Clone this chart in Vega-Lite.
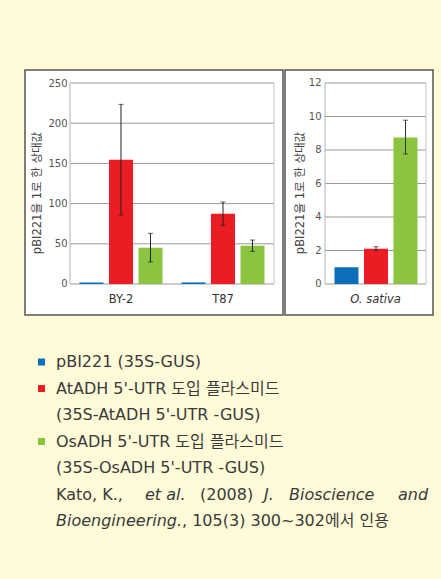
{
  "$schema": "https://vega.github.io/schema/vega-lite/v6.json",
  "background": "#fffad8",
  "padding": {"left": 24, "top": 69, "right": 11, "bottom": 53},
  "config": {
    "font": "'DejaVu Sans', 'Noto Sans CJK KR'",
    "concat": {"spacing": 0}
  },
  "datasets": {
    "bars": [
      {"group": "BY-2", "series": "pBI221", "value": 2},
      {"group": "BY-2", "series": "AtADH", "value": 154.6, "lo": 85.8, "hi": 223.4},
      {"group": "BY-2", "series": "OsADH", "value": 45.1, "lo": 27.4, "hi": 63},
      {"group": "T87", "series": "pBI221", "value": 2},
      {"group": "T87", "series": "AtADH", "value": 87.4, "lo": 72.9, "hi": 102},
      {"group": "T87", "series": "OsADH", "value": 47.6, "lo": 40.5, "hi": 54.7}
    ],
    "rice": [
      {"group": "O. sativa", "series": "pBI221", "value": 1},
      {"group": "O. sativa", "series": "AtADH", "value": 2.1, "lo": 1.99, "hi": 2.23},
      {"group": "O. sativa", "series": "OsADH", "value": 8.75, "lo": 7.76, "hi": 9.78}
    ],
    "leftGrid": [{"v": 0}, {"v": 50}, {"v": 100}, {"v": 150}, {"v": 200}, {"v": 250}],
    "rightGrid": [{"v": 0}, {"v": 2}, {"v": 4}, {"v": 6}, {"v": 8}, {"v": 10}, {"v": 12}],
    "legend": [
      {"line": 1, "text": "pBI221 (35S-GUS)", "series": "pBI221"},
      {"line": 2, "text": "AtADH 5'-UTR 도입 플라스미드", "series": "AtADH"},
      {"line": 3, "text": "(35S-AtADH 5'-UTR -GUS)"},
      {"line": 4, "text": "OsADH 5'-UTR 도입 플라스미드", "series": "OsADH"},
      {"line": 5, "text": "(35S-OsADH 5'-UTR -GUS)"},
      {"line": 6, "text": "Kato, K.,"},
      {"line": 6, "text": "et al."},
      {"line": 6, "text": "(2008)"},
      {"line": 6, "text": "J."},
      {"line": 6, "text": "Bioscience"},
      {"line": 6, "text": "and"},
      {"line": 7, "text": "Bioengineering."},
      {"line": 7, "text": ", 105(3) 300~302에서 인용"}
    ]
  },
  "spacing": 0,
  "vconcat": [
    {
      "spacing": 0,
      "hconcat": [
        {
          "width": 258,
          "height": 245,
          "view": {"fill": "white", "stroke": "#555555", "strokeWidth": 1.5},
          "layer": [
            {
              "data": {"name": "leftGrid"},
              "mark": {"type": "rule", "color": "#9a9a9a", "strokeWidth": 1},
              "encoding": {
                "x": {"datum": "BY-2", "type": "nominal", "bandPosition": 0},
                "x2": {"datum": "T87", "bandPosition": 1},
                "y": {"field": "v", "type": "quantitative"}
              }
            },
            {
              "data": {"name": "leftGrid"},
              "transform": [{"filter": "datum.v == 0"}],
              "mark": {"type": "rule", "color": "#b4b4b4", "strokeWidth": 1},
              "encoding": {
                "x": {"datum": "BY-2", "type": "nominal", "bandPosition": 0},
                "y": {"datum": 0, "type": "quantitative"},
                "y2": {"datum": 250}
              }
            },
            {
              "data": {"name": "leftGrid"},
              "transform": [{"filter": "datum.v == 0"}],
              "mark": {"type": "rule", "color": "#c4c4c4", "strokeWidth": 1},
              "encoding": {
                "x": {"datum": "T87", "type": "nominal", "bandPosition": 1},
                "y": {"datum": 0, "type": "quantitative"},
                "y2": {"datum": 250}
              }
            },
            {
              "data": {"name": "bars"},
              "mark": {"type": "bar"},
              "encoding": {
                "x": {
                  "field": "group", "type": "nominal",
                  "scale": {"domain": ["BY-2", "T87"], "paddingInner": 0, "paddingOuter": 0.2647, "align": 0.8333},
                  "axis": {"orient": "bottom", "offset": -31, "domain": false, "ticks": false, "labelPadding": 15, "labelAngle": 0, "labelAlign": "center", "labelFontSize": 11.5, "labelColor": "#333333", "title": null}
                },
                "xOffset": {
                  "field": "series", "type": "nominal",
                  "scale": {"domain": ["pBI221", "AtADH", "OsADH"], "paddingInner": 0.1864, "paddingOuter": 0.322}
                },
                "y": {
                  "field": "value", "type": "quantitative",
                  "scale": {"domain": [-38.56, 266.17], "nice": false, "zero": false},
                  "axis": {"values": [0, 50, 100, 150, 200, 250], "offset": -45, "domain": false, "ticks": false, "grid": false, "labelPadding": 3, "labelFontSize": 10, "labelColor": "#555555", "title": "pBI221을 1로 한 상대값", "titleFontSize": 11.5, "titleFontWeight": "normal", "titleColor": "#444444", "titlePadding": 5}
                },
                "y2": {"datum": 0},
                "color": {
                  "field": "series", "type": "nominal",
                  "scale": {"domain": ["pBI221", "AtADH", "OsADH"], "range": ["#0b6fbb", "#ec1c24", "#8cc43f"]},
                  "legend": null
                }
              }
            },
            {
              "data": {"name": "bars"},
              "transform": [{"filter": "isValid(datum.lo)"}],
              "mark": {"type": "rule", "color": "#222222", "strokeWidth": 1},
              "encoding": {
                "x": {"field": "group", "type": "nominal"},
                "xOffset": {"field": "series", "type": "nominal"},
                "y": {"field": "lo", "type": "quantitative"},
                "y2": {"field": "hi"}
              }
            },
            {
              "data": {"name": "bars"},
              "transform": [{"filter": "isValid(datum.lo)"}],
              "mark": {"type": "tick", "orient": "horizontal", "color": "#222222", "size": 5, "thickness": 1},
              "encoding": {
                "x": {"field": "group", "type": "nominal"},
                "xOffset": {"field": "series", "type": "nominal"},
                "y": {"field": "lo", "type": "quantitative"}
              }
            },
            {
              "data": {"name": "bars"},
              "transform": [{"filter": "isValid(datum.hi)"}],
              "mark": {"type": "tick", "orient": "horizontal", "color": "#222222", "size": 5, "thickness": 1},
              "encoding": {
                "x": {"field": "group", "type": "nominal"},
                "xOffset": {"field": "series", "type": "nominal"},
                "y": {"field": "hi", "type": "quantitative"}
              }
            }
          ]
        },
        {
          "width": 148,
          "height": 245,
          "view": {"fill": "white", "stroke": "#555555", "strokeWidth": 1.5},
          "layer": [
            {
              "data": {"name": "rightGrid"},
              "mark": {"type": "rule", "color": "#9a9a9a", "strokeWidth": 1},
              "encoding": {
                "x": {"datum": "O. sativa", "type": "nominal", "bandPosition": 0},
                "x2": {"datum": "O. sativa", "bandPosition": 1},
                "y": {"field": "v", "type": "quantitative"}
              }
            },
            {
              "data": {"name": "rightGrid"},
              "transform": [{"filter": "datum.v == 0"}],
              "mark": {"type": "rule", "color": "#b4b4b4", "strokeWidth": 1},
              "encoding": {
                "x": {"datum": "O. sativa", "type": "nominal", "bandPosition": 0},
                "y": {"datum": 0, "type": "quantitative"},
                "y2": {"datum": 12}
              }
            },
            {
              "data": {"name": "rightGrid"},
              "transform": [{"filter": "datum.v == 0"}],
              "mark": {"type": "rule", "color": "#c4c4c4", "strokeWidth": 1},
              "encoding": {
                "x": {"datum": "O. sativa", "type": "nominal", "bandPosition": 1},
                "y": {"datum": 0, "type": "quantitative"},
                "y2": {"datum": 12}
              }
            },
            {
              "data": {"name": "rice"},
              "mark": {"type": "bar"},
              "encoding": {
                "x": {
                  "field": "group", "type": "nominal",
                  "scale": {"domain": ["O. sativa"], "paddingInner": 0, "paddingOuter": 0.2327, "align": 0.851},
                  "axis": {"orient": "bottom", "offset": -31, "domain": false, "ticks": false, "labelPadding": 15, "labelAngle": 0, "labelAlign": "center", "labelFontSize": 11.5, "labelFontStyle": "italic", "labelColor": "#333333", "title": null}
                },
                "xOffset": {
                  "field": "series", "type": "nominal",
                  "scale": {"domain": ["pBI221", "AtADH", "OsADH"], "paddingInner": 0.1864, "paddingOuter": 0.305}
                },
                "y": {
                  "field": "value", "type": "quantitative",
                  "scale": {"domain": [-1.851, 12.776], "nice": false, "zero": false},
                  "axis": {"values": [0, 2, 4, 6, 8, 10, 12], "offset": -40, "domain": false, "ticks": false, "grid": false, "labelPadding": 4, "labelFontSize": 10, "labelColor": "#555555", "title": "pBI221을 1로 한 상대값", "titleFontSize": 11.5, "titleFontWeight": "normal", "titleColor": "#444444", "titlePadding": 3}
                },
                "y2": {"datum": 0},
                "color": {
                  "field": "series", "type": "nominal",
                  "scale": {"domain": ["pBI221", "AtADH", "OsADH"], "range": ["#0b6fbb", "#ec1c24", "#8cc43f"]},
                  "legend": null
                }
              }
            },
            {
              "data": {"name": "rice"},
              "transform": [{"filter": "isValid(datum.lo)"}],
              "mark": {"type": "rule", "color": "#333333", "strokeWidth": 1},
              "encoding": {
                "x": {"field": "group", "type": "nominal"},
                "xOffset": {"field": "series", "type": "nominal"},
                "y": {"field": "lo", "type": "quantitative"},
                "y2": {"field": "hi"}
              }
            },
            {
              "data": {"name": "rice"},
              "transform": [{"filter": "isValid(datum.lo)"}],
              "mark": {"type": "tick", "orient": "horizontal", "color": "#222222", "size": 5, "thickness": 1},
              "encoding": {
                "x": {"field": "group", "type": "nominal"},
                "xOffset": {"field": "series", "type": "nominal"},
                "y": {"field": "lo", "type": "quantitative"}
              }
            },
            {
              "data": {"name": "rice"},
              "transform": [{"filter": "isValid(datum.hi)"}],
              "mark": {"type": "tick", "orient": "horizontal", "color": "#222222", "size": 5, "thickness": 1},
              "encoding": {
                "x": {"field": "group", "type": "nominal"},
                "xOffset": {"field": "series", "type": "nominal"},
                "y": {"field": "hi", "type": "quantitative"}
              }
            }
          ]
        }
      ]
    },
    {
      "width": 43.5,
      "height": 212,
      "view": {"stroke": null, "fill": null},
      "data": {"name": "legend"},
      "encoding": {
        "y": {"field": "line", "type": "ordinal", "scale": {"type": "point", "domain": [1, 2, 3, 4, 5, 6, 7], "padding": 1, "align": 0.868}, "axis": null},
        "x": {"datum": "text", "type": "nominal", "scale": {"type": "point", "domain": ["swatch", "text"], "padding": 1, "align": 0.569}, "axis": null}
      },
      "layer": [
        {
          "transform": [{"filter": "isValid(datum.series)"}],
          "mark": {"type": "square", "size": 49, "opacity": 1},
          "encoding": {
            "x": {"datum": "swatch", "type": "nominal"},
            "color": {"field": "series", "type": "nominal", "scale": {"domain": ["pBI221", "AtADH", "OsADH"], "range": ["#0b6fbb", "#ec1c24", "#8cc43f"]}, "legend": null}
          }
        },
        {
          "transform": [{"filter": "datum.line <= 5 || datum.text == 'Kato, K.,'"}],
          "mark": {"type": "text", "align": "left", "baseline": "middle", "fontSize": 16, "color": "#3a3a3a"},
          "encoding": {"text": {"field": "text"}}
        },
        {
          "transform": [{"filter": "datum.text == '(2008)'"}],
          "mark": {"type": "text", "align": "left", "baseline": "middle", "fontSize": 16, "color": "#3a3a3a", "dx": 144},
          "encoding": {"text": {"field": "text"}}
        },
        {
          "transform": [{"filter": "datum.text == 'et al.'"}],
          "mark": {"type": "text", "align": "left", "baseline": "middle", "fontSize": 16, "fontStyle": "italic", "color": "#3a3a3a", "dx": 89},
          "encoding": {"text": {"field": "text"}}
        },
        {
          "transform": [{"filter": "datum.text == 'J.'"}],
          "mark": {"type": "text", "align": "left", "baseline": "middle", "fontSize": 16, "fontStyle": "italic", "color": "#3a3a3a", "dx": 208},
          "encoding": {"text": {"field": "text"}}
        },
        {
          "transform": [{"filter": "datum.text == 'Bioscience'"}],
          "mark": {"type": "text", "align": "left", "baseline": "middle", "fontSize": 16, "fontStyle": "italic", "color": "#3a3a3a", "dx": 233},
          "encoding": {"text": {"field": "text"}}
        },
        {
          "transform": [{"filter": "datum.text == 'and'"}],
          "mark": {"type": "text", "align": "left", "baseline": "middle", "fontSize": 16, "fontStyle": "italic", "color": "#3a3a3a", "dx": 342},
          "encoding": {"text": {"field": "text"}}
        },
        {
          "transform": [{"filter": "datum.text == 'Bioengineering.'"}],
          "mark": {"type": "text", "align": "left", "baseline": "middle", "fontSize": 16, "fontStyle": "italic", "color": "#3a3a3a"},
          "encoding": {"text": {"field": "text"}}
        },
        {
          "transform": [{"filter": "datum.line == 7 && datum.text != 'Bioengineering.'"}],
          "mark": {"type": "text", "align": "left", "baseline": "middle", "fontSize": 16, "color": "#3a3a3a", "dx": 126},
          "encoding": {"text": {"field": "text"}}
        }
      ]
    }
  ]
}
